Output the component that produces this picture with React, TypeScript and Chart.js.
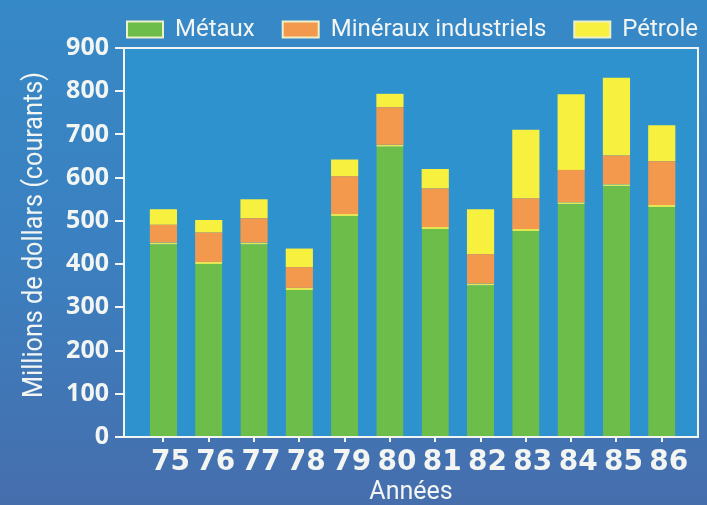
import React, { useEffect, useRef } from "react";
import { Chart, registerables } from "chart.js";

Chart.register(...registerables);

const years = [75, 76, 77, 78, 79, 80, 81, 82, 83, 84, 85, 86];
const metaux = [450, 405, 450, 345, 516, 676, 486, 355, 481, 543, 585, 537];
const mineraux = [41, 68, 56, 48, 87, 87, 89, 68, 71, 75, 66, 101];
const petrole = [36, 29, 44, 43, 39, 31, 45, 104, 159, 175, 180, 83];
const seriesNames = ["Métaux", "Minéraux industriels", "Pétrole"];
const seriesColors = ["#6dbd4b", "#f2994d", "#f8f03e"];
const yTickValues = [0, 100, 200, 300, 400, 500, 600, 700, 800, 900];
const yTitle = "Millions de dollars (courants)";
const xTitle = "Années";

const WHITE = "#f3f5f2";
const LEGEND_PAD = 28;

const framePlugin = {
  id: "frame",
  afterLayout(chart: any) {
    const lg = chart.legend;
    const a = chart.chartArea;
    if (lg) {
      const dx = a.right + LEGEND_PAD - lg.right;
      lg.left += dx;
      lg.right += dx;
      lg.top = 17.5 - LEGEND_PAD;
      lg.bottom = lg.top + 90;
      lg.height = 90;
    }
  },
  beforeDraw(chart: any) {
    const { ctx, chartArea: a } = chart;
    ctx.save();
    ctx.fillStyle = "#2e92cf";
    ctx.fillRect(a.left, a.top, a.right - a.left, a.bottom - a.top);
    ctx.restore();
  },
  afterDraw(chart: any) {
    const { ctx, chartArea: a } = chart;
    ctx.save();
    ctx.strokeStyle = WHITE;
    ctx.lineWidth = 2;
    ctx.beginPath();
    ctx.moveTo(a.left, a.top);
    ctx.lineTo(a.right, a.top);
    ctx.lineTo(a.right, a.bottom);
    ctx.stroke();
    ctx.restore();

    // y-axis title (condensed to the reference length)
    ctx.save();
    ctx.translate(42, 235);
    ctx.rotate(-Math.PI / 2);
    ctx.fillStyle = WHITE;
    ctx.font = '28px "Roboto"';
    ctx.textAlign = "center";
    ctx.textBaseline = "alphabetic";
    ctx.fillText(yTitle, 0, 0, 326);
    ctx.restore();
  },
};

export default function App() {
  const ref = useRef<HTMLCanvasElement | null>(null);

  useEffect(() => {
    if (!ref.current) return;
    const data = [metaux, mineraux, petrole];
    const chart = new Chart(ref.current, {
      type: "bar",
      data: {
        datasets: data.map((vals, i) => ({
          label: seriesNames[i],
          data: years.map((y, j) => ({ x: y, y: vals[j] })),
          backgroundColor: seriesColors[i],
          borderColor: i === 0 ? "#e4e652" : seriesColors[i],
          borderWidth: i === 0 ? { top: 2, left: 0, right: 0, bottom: 0 } : 0,
          borderSkipped: "start",
          categoryPercentage: 1,
          barPercentage: 0.6,
        })),
      },
      options: {
        responsive: false,
        animation: false,
        events: [],
        layout: { padding: { left: 18, right: 9, top: 13, bottom: 0 } },
        plugins: {
          tooltip: { enabled: false },
          legend: {
            display: true,
            position: "top",
            align: "end",
            maxHeight: 35,
            labels: {
              boxWidth: 36,
              boxHeight: 16,
              padding: LEGEND_PAD,
              color: WHITE,
              font: { family: "Roboto", size: 24 },
              generateLabels: () =>
                seriesNames.map((n, i) => ({
                  text: n,
                  fillStyle: seriesColors[i],
                  strokeStyle: "#eef0c8",
                  lineWidth: 2,
                  fontColor: WHITE,
                  hidden: false,
                  datasetIndex: i,
                })),
            },
          },
        },
        scales: {
          x: {
            type: "linear",
            stacked: true,
            offset: false,
            min: 74.13,
            max: 86.8,
            afterBuildTicks: (s: any) => {
              s.ticks = years.map((v) => ({ value: v }));
            },
            afterFit: (s: any) => {
              s.height = 68;
            },
            ticks: {
              color: WHITE,
              font: { family: "DejaVu Sans", weight: "bold", size: 28, lineHeight: 1.2 },
              padding: 4,
              labelOffset: 7,
              maxRotation: 0,
              autoSkip: false,
              callback: (v: any) => String(v),
            },
            grid: {
              display: true,
              offset: false,
              drawOnChartArea: false,
              drawTicks: true,
              tickLength: 5,
              color: WHITE,
              lineWidth: 2,
            },
            border: { display: true, color: WHITE, width: 2 },
            title: {
              display: true,
              text: xTitle,
              color: WHITE,
              font: { family: "Roboto", size: 25, lineHeight: 1 },
              padding: 0,
            },
          },
          y: {
            stacked: true,
            min: 0,
            max: 900,
            afterBuildTicks: (s: any) => {
              s.ticks = yTickValues.map((v) => ({ value: v }));
            },
            afterFit: (s: any) => {
              s.width = 124 - 18;
            },
            ticks: {
              color: WHITE,
              font: { family: "Open Sans", weight: "bold", size: 25 },
              padding: 6,
              callback: (v: any) => String(v),
            },
            grid: {
              display: true,
              drawOnChartArea: false,
              drawTicks: true,
              tickLength: 9,
              color: WHITE,
              lineWidth: 2,
            },
            border: { display: true, color: WHITE, width: 2 },
            title: { display: false },
          },
        },
      },
      plugins: [framePlugin],
    } as any);
    return () => chart.destroy();
  }, []);

  return (
    <div
      style={{
        position: "fixed",
        left: 0,
        top: 0,
        width: 707,
        height: 505,
        background: "linear-gradient(180deg, #3689c7 0%, #3b80c0 50%, #466ead 100%)",
      }}
    >
      <canvas ref={ref} width={707} height={505} style={{ display: "block", width: 707, height: 505 }} />
    </div>
  );
}
